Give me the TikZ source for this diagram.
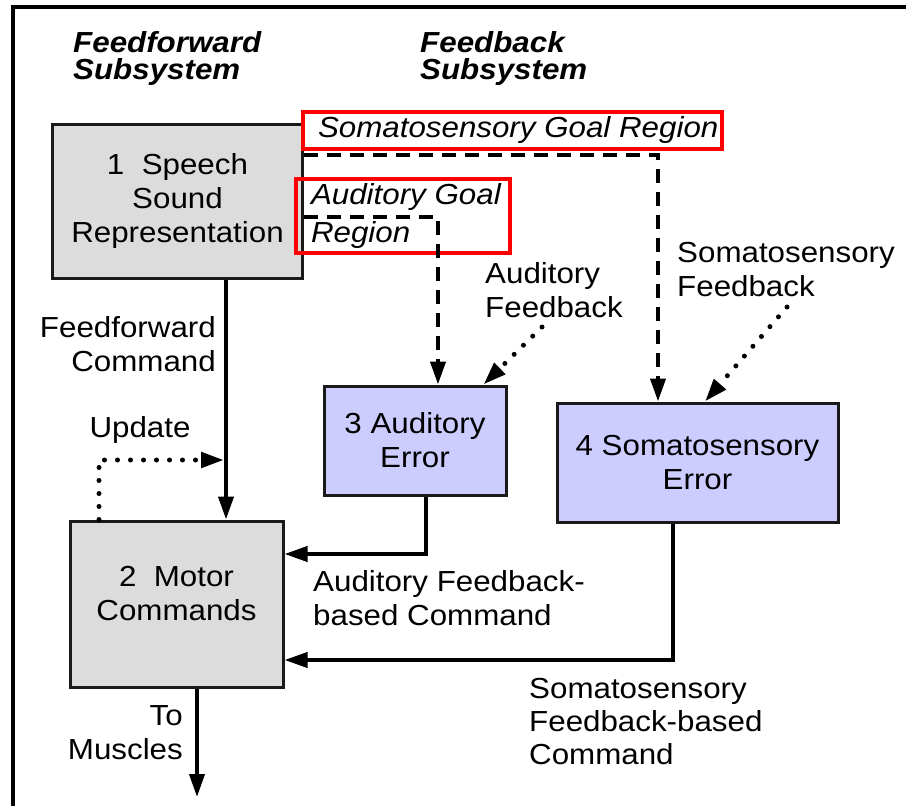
\documentclass[tikz,border=0pt]{standalone}
\usepackage{fontspec}
\setmainfont{Liberation Sans}[FakeStretch=1.08]
\usetikzlibrary{arrows.meta}
\definecolor{boxgray}{HTML}{DCDCDC}
\definecolor{lav}{HTML}{CCCCFF}
\definecolor{edge}{HTML}{1A1A1A}
\begin{document}
\begin{tikzpicture}[x=1pt,y=-1pt,
  txt/.style={font=\fontsize{29}{34}\selectfont, inner sep=0pt},
  head/.style={font=\fontsize{29}{27}\selectfont\bfseries\itshape, inner sep=0pt, align=left, anchor=west},
  graybox/.style={draw=edge, line width=3pt, fill=boxgray, inner sep=0pt},
  lavbox/.style={draw=edge, line width=3pt, fill=lav, inner sep=0pt, align=center, font=\fontsize{29}{34}\selectfont},
  redbox/.style={draw=red, line width=3.5pt, inner ysep=0pt, inner xsep=15pt},
  tip/.style={-{Triangle[length=23pt,width=15pt]}},
  solidarrow/.style={tip, line width=4pt, draw=black},
  dasharrow/.style={tip, line width=4pt, dash pattern=on 14pt off 9pt},
  dotarrow/.style={tip, line width=5pt, line cap=round, dash pattern=on 0pt off 13pt}
]
\useasboundingbox (0,0) rectangle (906,806);
% frame
\draw[line width=4pt] (13,810) -- (13,7) -- (910,7);

% headings
\node[head] (hff) at (73,59) {Feedforward\\Subsystem};
\node[head] (hfb) at (420,59) {Feedback\\Subsystem};

% boxes
\node[graybox, minimum width=250pt, minimum height=154pt, align=center,
      font=\fontsize{29}{34}\selectfont] (b1) at (177.5,201) {1~~Speech\\Sound\\Representation};
\node[graybox, minimum width=213pt, minimum height=166pt] (b2) at (176.5,604) {};
\node[txt, align=center] (b2t) at (176.5,594) {2~~Motor\\Commands};
\node[lavbox, minimum width=182pt, minimum height=109pt] (aud) at (415,440.5) {3 Auditory\\Error};
\node[lavbox, minimum width=281pt, minimum height=119pt] (som) at (697.5,462.5) {4 Somatosensory\\Error};

% goal regions
\node[redbox, minimum height=37pt, font=\fontsize{29}{34}\selectfont\itshape] (sg) at (512.5,130.5)
  {\makebox[389pt][l]{Somatosensory Goal Region}};
\node[redbox, minimum height=74pt, align=left, font=\fontsize{29}{38}\selectfont\itshape] (ag) at (403,216)
  {\makebox[184pt][l]{Auditory Goal}\\\makebox[184pt][l]{Region}};

% labels
\node[txt, align=right, anchor=east] (lffc) at (216,344) {Feedforward\\Command};
\node[txt] (lupd) at (140,430) {Update};
\node[txt, align=left, anchor=west] (lafb) at (485,290) {Auditory\\Feedback};
\node[txt, align=left, anchor=west] (lsfb) at (677,270) {Somatosensory\\Feedback};
\node[txt, align=left, anchor=west] (lafc) at (313,598) {Auditory Feedback-\\based Command};
\node[txt, align=left, anchor=west, font=\fontsize{29}{33}\selectfont] (lsfc) at (529,722) {Somatosensory\\Feedback-based\\Command};
\node[txt, align=right, anchor=east] (lmus) at (183,733) {To\\Muscles};

% coordinates
\coordinate (ffx) at (226,0);
\coordinate (upd) at (99,460);
\coordinate (musc) at (197,797);
\coordinate (audcol) at (438,217);
\coordinate (somcol) at (658,155);
\coordinate (afb) at (542,327);
\coordinate (sfb) at (787,307);
\coordinate (audy) at (0,554);
\coordinate (somy) at (0,660);

% connectors
\draw[solidarrow] (b1.south -| ffx) -- (b2.north -| ffx);
\draw[dotarrow, shorten >=2pt] (b2.north -| upd) -- (upd) -- (upd -| ffx);
\draw[solidarrow] ([xshift=11pt]aud.south) |- (b2.east |- audy);
\draw[solidarrow] ([xshift=-24.5pt]som.south) |- (b2.east |- somy);
\draw[solidarrow] (b2.south -| musc) -- (musc);
\draw[dasharrow] (b1.east |- audcol) -| (aud.north -| audcol);
\draw[dasharrow] (b1.east |- somcol) -| (som.north -| somcol);
\draw[dotarrow] (afb) -- ([xshift=-24pt]aud.north east);
\draw[dotarrow] (sfb) -- ([xshift=7.5pt]som.north);
\end{tikzpicture}
\end{document}
